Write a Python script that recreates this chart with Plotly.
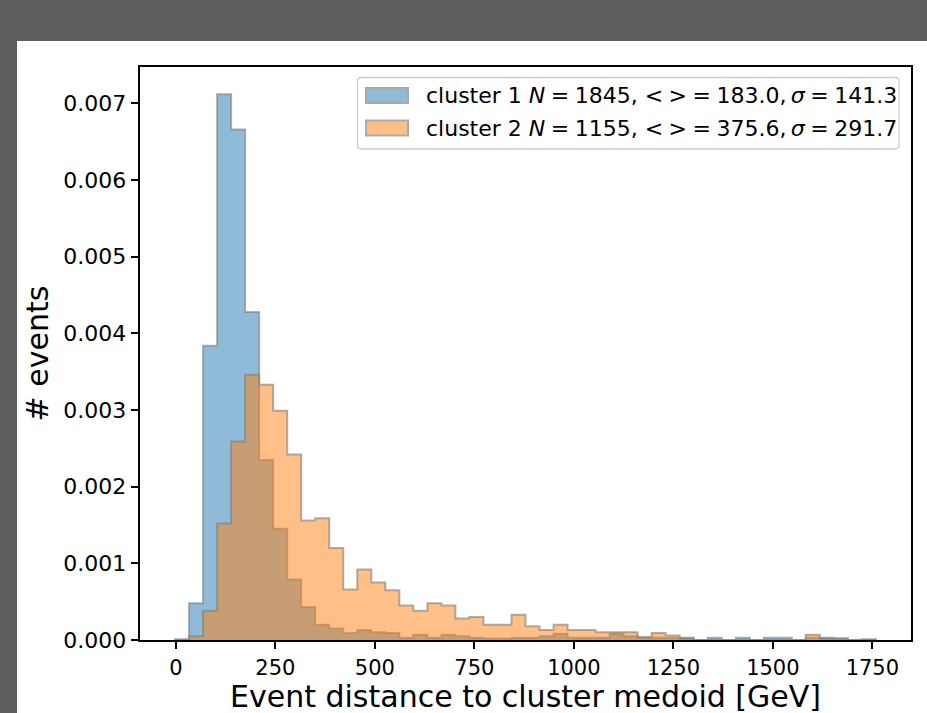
import numpy as np
import plotly.graph_objects as go

# ---- data (density histograms, 50 bins) ----
bin_start = -2.0
bin_width = 35.22
n_bins = 50

cluster1_density = [
    0.0, 0.00048, 0.00384, 0.00712, 0.00666, 0.00428, 0.00235, 0.00145, 0.00079, 0.00043,
    0.00020, 0.00015, 0.00009, 0.00013, 0.00010, 0.00009, 0.00003, 0.00007, 0.00003, 0.00007,
    0.00005, 0.00003, 0.00002, 0.00002, 0.00003, 0.00003, 0.00005, 0.00008, 0.00003, 0.00003,
    0.00003, 0.00008, 0.00005, 0.00003, 0.00003, 0.00003, 0.00003, 0.0, 0.00003, 0.0,
    0.00003, 0.0, 0.00003, 0.00003, 0.0, 0.00003, 0.00003, 0.00002, 0.0, 0.00001,
]
cluster2_density = [
    0.00001, 0.00005, 0.00038, 0.00152, 0.00259, 0.00346, 0.00333, 0.00299, 0.00242, 0.00156,
    0.00159, 0.00120, 0.00066, 0.00092, 0.00075, 0.00065, 0.00045, 0.00038, 0.00048, 0.00045,
    0.00028, 0.00030, 0.00020, 0.00020, 0.00033, 0.00018, 0.00013, 0.00020, 0.00013, 0.00013,
    0.00010, 0.00010, 0.00010, 0.00004, 0.00009, 0.00006, 0.00002, 0.0, 0.0, 0.0,
    0.0, 0.0, 0.0, 0.0, 0.0, 0.00007, 0.00002, 0.00002, 0.0, 0.0,
]
SP = "\u2005"   # narrower (math-style) spacing
TH = "\u2009"
labels = [
    f"cluster 1 <i>N</i>{SP}={SP}1845, &lt;{SP}&gt;{SP}={SP}183.0,{TH}<i>σ</i>{SP}={SP}141.3",
    f"cluster 2 <i>N</i>{SP}={SP}1155, &lt;{SP}&gt;{SP}={SP}375.6,{TH}<i>σ</i>{SP}={SP}291.7",
]
x_title = "Event distance to cluster medoid [GeV]"
y_title = "# events"
x_ticks = [0, 250, 500, 750, 1000, 1250, 1500, 1750]
y_ticks = [0.000, 0.001, 0.002, 0.003, 0.004, 0.005, 0.006, 0.007]

edges = bin_start + bin_width * np.arange(n_bins + 1)


def step_xy(vals):
    xs = [edges[0]] + list(edges[:-1]) + [edges[-1], edges[-1]]
    ys = [0.0] + list(vals) + [vals[-1], 0.0]
    return xs, ys


fills = ["rgba(31,119,180,0.5)", "rgba(255,127,14,0.5)"]
swatch_fill = ["#8fbbd9", "#ffbf86"]
edge_col = "rgba(128,128,128,0.62)"

fig = go.Figure()
for vals, fc, name in zip([cluster1_density, cluster2_density], fills, labels):
    xs, ys = step_xy(vals)
    fig.add_trace(go.Scatter(
        x=xs, y=ys, mode="lines", line=dict(shape="hv", color=edge_col, width=2),
        fill="tozeroy", fillcolor=fc, name=name, showlegend=False, hoverinfo="skip",
    ))

# layout geometry (pixels)
W, H = 927, 713
L, R, T, B = 140, 911, 67, 640
span = edges[-1] - edges[0]
xr = [edges[0] - 0.05 * span, edges[-1] + 0.05 * span]
yr = [0, max(cluster1_density + cluster2_density) * 1.05]


def px(x):
    return (x - L) / (R - L)


def py(y):
    return (B - y) / (B - T)


shapes = [
    dict(type="rect", xref="paper", yref="paper", x0=px(17), x1=px(930), y0=py(41), y1=py(716),
         fillcolor="white", line=dict(width=0), layer="below"),
]
# legend frame (rounded)
lx0, lx1, ly0, ly1, rr = 357.5, 899, 77.5, 149, 4
path = (f"M {px(lx0+rr)},{py(ly0)} L {px(lx1-rr)},{py(ly0)} Q {px(lx1)},{py(ly0)} {px(lx1)},{py(ly0+rr)} "
        f"L {px(lx1)},{py(ly1-rr)} Q {px(lx1)},{py(ly1)} {px(lx1-rr)},{py(ly1)} "
        f"L {px(lx0+rr)},{py(ly1)} Q {px(lx0)},{py(ly1)} {px(lx0)},{py(ly1-rr)} "
        f"L {px(lx0)},{py(ly0+rr)} Q {px(lx0)},{py(ly0)} {px(lx0+rr)},{py(ly0)} Z")
shapes.append(dict(type="path", xref="paper", yref="paper", path=path,
                   fillcolor="rgba(255,255,255,0.8)", line=dict(color="#cccccc", width=1.3)))
annotations = []
row_y = [95.5, 128]
for i in range(2):
    shapes.append(dict(type="rect", xref="paper", yref="paper",
                       x0=px(366), x1=px(408), y0=py(row_y[i] - 7.5), y1=py(row_y[i] + 7.5),
                       fillcolor=swatch_fill[i], line=dict(color="#aaaaaa", width=2)))
    annotations.append(dict(xref="paper", yref="paper", x=px(424), y=py(row_y[i]),
                            xanchor="left", yanchor="middle", text=labels[i], showarrow=False,
                            font=dict(family="DejaVu Sans", size=22, color="black")))

# x-axis title as annotation
annotations.append(dict(xref="paper", yref="paper", x=0.5, y=py(H + 3), xanchor="center",
                        yanchor="bottom", text=x_title, showarrow=False,
                        font=dict(family="DejaVu Sans", size=30, color="black")))

axis_common = dict(showline=True, mirror=True, linecolor="black", linewidth=1.7,
                   ticks="outside", ticklen=7.5, tickwidth=1.7, tickcolor="black",
                   showgrid=False, zeroline=False)

fig.update_layout(
    width=W, height=H,
    margin=dict(l=L, r=W - R, t=T, b=H - B, pad=0),
    paper_bgcolor="#5e5e5e", plot_bgcolor="white",
    showlegend=False,
    xaxis=dict(range=xr, tickvals=x_ticks, ticktext=[str(v) for v in x_ticks],
               tickfont=dict(family="DejaVu Sans", size=21, color="black"),
               automargin=False, **axis_common),
    yaxis=dict(range=yr, tickvals=y_ticks, ticktext=[f"{v:.3f}" for v in y_ticks],
               tickfont=dict(family="DejaVu Sans", size=22, color="black"),
               title=dict(text=y_title,
                          font=dict(family="DejaVu Sans", size=30, color="black"), standoff=6),
               automargin=False, **axis_common),
    shapes=shapes, annotations=annotations,
)

fig.write_html("out.html")
